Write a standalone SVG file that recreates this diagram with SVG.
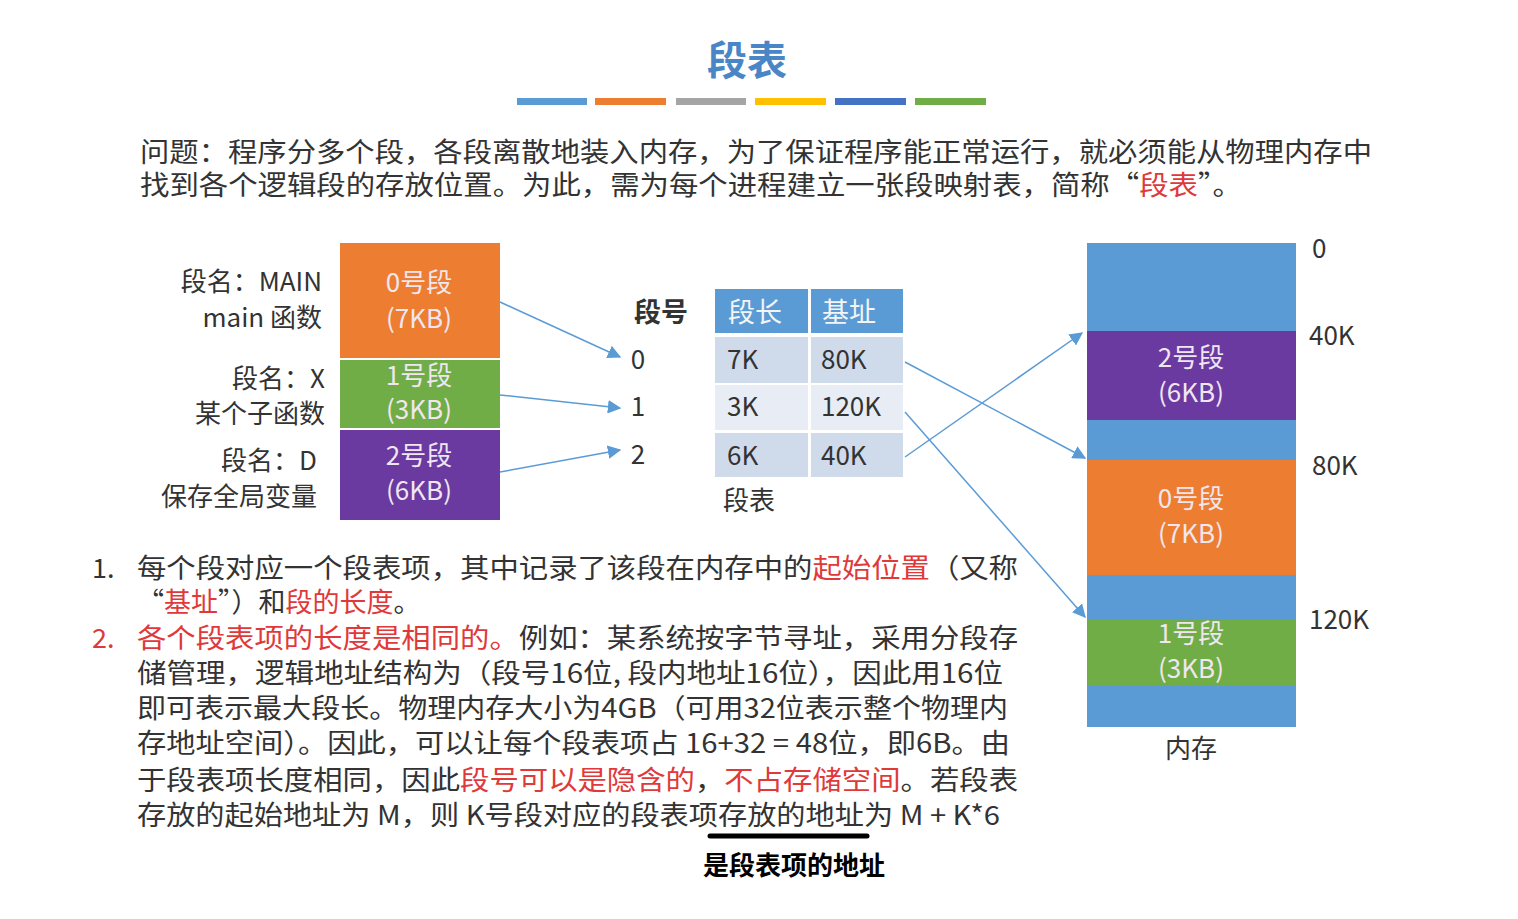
<svg xmlns="http://www.w3.org/2000/svg" width="1518" height="919" viewBox="0 0 1518 919">
<style>
text{font-family:"Noto Sans CJK SC","Noto Sans",sans-serif;fill:#333}
.t{font-size:27px}
.r{fill:#e0393a}
.w{fill:#f0e6f0;font-size:26px;text-anchor:middle}
.n{font-size:26px}
.c{stroke:#5b9bd5;stroke-width:1.5;fill:none;marker-end:url(#a)}
</style>
<defs><marker id="a" viewBox="0 0 10 10" refX="9" refY="5" markerWidth="9" markerHeight="9" orient="auto"><path d="M0,0 L10,5 L0,10 z" fill="#5b9bd5"/></marker></defs>
<rect width="1518" height="919" fill="#fff"/>
<text x="747" y="75" text-anchor="middle" style="font-size:40px;fill:#4a86c5;font-weight:bold">段表</text>
<rect x="517" y="98" width="70" height="7" fill="#5b9bd5"/><rect x="595" y="98" width="71" height="7" fill="#ed7d31"/><rect x="676" y="98" width="70" height="7" fill="#a5a5a5"/><rect x="755" y="98" width="71" height="7" fill="#ffc000"/><rect x="835" y="98" width="71" height="7" fill="#4472c4"/><rect x="915" y="98" width="71" height="7" fill="#70ad47"/>
<text class="t" x="140" y="162" textLength="1232" lengthAdjust="spacingAndGlyphs">问题：程序分多个段，各段离散地装入内存，为了保证程序能正常运行，就必须能从物理内存中</text>
<text class="t" x="140" y="195" textLength="1102" lengthAdjust="spacingAndGlyphs">找到各个逻辑段的存放位置。为此，需为每个进程建立一张段映射表，简称“<tspan class="r">段表</tspan>”。</text>
<g id="left">
<text class="n" x="322" y="291" text-anchor="end">段名：MAIN</text><text class="n" x="322" y="327" text-anchor="end">main 函数</text>
<text class="n" x="325" y="388" text-anchor="end">段名：X</text><text class="n" x="325" y="423" text-anchor="end">某个子函数</text>
<text class="n" x="317" y="470" text-anchor="end">段名：D</text><text class="n" x="317" y="506" text-anchor="end">保存全局变量</text>
</g>
<g id="seg0"><rect x="340" y="243" width="160" height="115" fill="#ed7d31"/><text class="w" x="419" y="292">0号段</text><text class="w" x="419" y="328">(7KB)</text></g>
<g id="seg1"><rect x="340" y="360" width="160" height="68" fill="#70ad47"/><text class="w" x="419" y="385">1号段</text><text class="w" x="419" y="419">(3KB)</text></g>
<g id="seg2"><rect x="340" y="430" width="160" height="90" fill="#6a3aa0"/><text class="w" x="419" y="465">2号段</text><text class="w" x="419" y="500">(6KB)</text></g>
<g id="table">
<text x="661" y="322" text-anchor="middle" style="font-size:27px;font-weight:bold">段号</text>
<text class="n" x="638" y="369" text-anchor="middle">0</text><text class="n" x="638" y="416" text-anchor="middle">1</text><text class="n" x="638" y="464" text-anchor="middle">2</text>
<rect x="715" y="289" width="93" height="44" fill="#5b9bd5"/><rect x="811" y="289" width="92" height="44" fill="#5b9bd5"/>
<text x="728" y="322" style="font-size:27px;fill:#f4f4f4">段长</text><text x="822" y="322" style="font-size:27px;fill:#f4f4f4">基址</text>
<rect x="715" y="337" width="93" height="46" fill="#cfdaea"/><rect x="811" y="337" width="92" height="46" fill="#cfdaea"/>
<rect x="715" y="385" width="93" height="45" fill="#e8edf5"/><rect x="811" y="385" width="92" height="45" fill="#e8edf5"/>
<rect x="715" y="433" width="93" height="44" fill="#cfdaea"/><rect x="811" y="433" width="92" height="44" fill="#cfdaea"/>
<text class="n" x="727" y="369">7K</text><text class="n" x="821" y="369">80K</text>
<text class="n" x="727" y="416">3K</text><text class="n" x="821" y="416">120K</text>
<text class="n" x="727" y="465">6K</text><text class="n" x="821" y="465">40K</text>
<text class="n" x="723" y="510">段表</text>
</g>
<g id="memory">
<rect x="1087" y="243" width="209" height="484" fill="#5b9bd5"/>
<rect x="1087" y="331" width="209" height="89" fill="#6a3aa0"/>
<rect x="1087" y="460" width="209" height="115" fill="#ed7d31"/>
<rect x="1087" y="620" width="209" height="66" fill="#70ad47"/>
<text class="w" x="1191" y="367">2号段</text><text class="w" x="1191" y="402">(6KB)</text>
<text class="w" x="1191" y="508">0号段</text><text class="w" x="1191" y="543">(7KB)</text>
<text class="w" x="1191" y="643">1号段</text><text class="w" x="1191" y="678">(3KB)</text>
<text class="n" x="1312" y="258">0</text><text class="n" x="1309" y="345">40K</text><text class="n" x="1312" y="475">80K</text><text class="n" x="1309" y="629">120K</text>
<text class="n" x="1191" y="758" text-anchor="middle">内存</text>
</g>
<g id="connectors">
<path class="c" d="M500,302 L620,357"/><path class="c" d="M500,395 L620,408"/><path class="c" d="M500,472 L620,450"/>
<path class="c" d="M905,362 L1085,458"/><path class="c" d="M905,412 L1085,617"/><path class="c" d="M905,457 L1082,333"/>
</g>
<g id="notes">
<text class="t" x="92" y="578">1.</text><text class="t r" x="92" y="648">2.</text>
<text class="t" x="137" y="578" textLength="881" lengthAdjust="spacingAndGlyphs">每个段对应一个段表项，其中记录了该段在内存中的<tspan class="r">起始位置</tspan>（又称</text>
<text class="t" x="137" y="612">“<tspan class="r">基址</tspan>”）和<tspan class="r">段的长度</tspan>。</text>
<text class="t" x="137" y="648" textLength="881" lengthAdjust="spacingAndGlyphs"><tspan class="r">各个段表项的长度是相同的。</tspan>例如：某系统按字节寻址，采用分段存</text>
<text class="t" x="137" y="683" textLength="866" lengthAdjust="spacingAndGlyphs">储管理，逻辑地址结构为（段号16位, 段内地址16位），因此用16位</text>
<text class="t" x="137" y="718" textLength="871" lengthAdjust="spacingAndGlyphs">即可表示最大段长。物理内存大小为4GB（可用32位表示整个物理内</text>
<text class="t" x="137" y="753" textLength="873" lengthAdjust="spacingAndGlyphs">存地址空间）。因此，可以让每个段表项占 16+32 = 48位，即6B。由</text>
<text class="t" x="137" y="790" textLength="881" lengthAdjust="spacingAndGlyphs">于段表项长度相同，因此<tspan class="r">段号可以是隐含的</tspan>，<tspan class="r">不占存储空间</tspan>。若段表</text>
<text class="t" x="137" y="825" textLength="863" lengthAdjust="spacingAndGlyphs">存放的起始地址为 M，则 K号段对应的段表项存放的地址为 M + K*6</text>
<line x1="710" y1="836" x2="867" y2="836" stroke="#000" stroke-width="5" stroke-linecap="round"/>
<text x="794" y="875" text-anchor="middle" style="font-size:26px;font-weight:bold;fill:#000">是段表项的地址</text>
</g>
</svg>
